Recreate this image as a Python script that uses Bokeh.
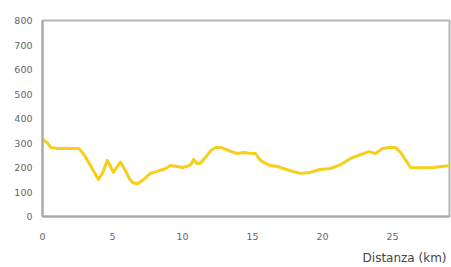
from bokeh.plotting import figure
from bokeh.models import Range1d, FixedTicker, LinearAxis, CustomJSTickFormatter
from bokeh.embed import file_html
from bokeh.resources import INLINE

# distance (km) and altitude (m)
distanza = [0.0, 0.1, 0.35, 0.6, 1.0, 1.6, 2.1, 2.6, 3.0, 3.5, 4.0, 4.3, 4.64, 4.85, 5.07, 5.3, 5.57,
            5.9, 6.2, 6.43, 6.8, 7.2, 7.7, 8.3, 8.8, 9.14, 9.6, 10.0, 10.4, 10.6, 10.79, 10.95, 11.07,
            11.29, 11.7, 12.0, 12.36, 12.71, 13.1, 13.5, 13.93, 14.36, 14.8, 15.21, 15.57, 15.9, 16.29,
            16.8, 17.21, 17.8, 18.43, 19.14, 19.8, 20.57, 21.3, 22.0, 22.7, 23.29, 23.79, 24.29, 24.8,
            25.21, 25.6, 26.0, 26.29, 27.0, 27.93, 28.5, 29.14]
altitudine = [318, 312, 300, 282, 278, 279, 278, 278, 250, 200, 151, 180, 229, 205, 180, 200, 222,
              190, 155, 139, 134, 150, 176, 186, 196, 208, 204, 200, 206, 212, 233, 222, 216,
              218, 245, 268, 282, 282, 274, 265, 257, 261, 258, 257, 229, 218, 208,
              204, 196, 185, 176, 180, 192, 196, 212, 237, 252, 265, 257, 278, 282,
              282, 260, 225, 200, 199, 200, 204, 208]

y_ticks = [0, 100, 200, 300, 400, 500, 600, 700, 800]
x_ticks = [0, 5, 10, 15, 20, 25]
x_title = "Distanza (km)"
x_title_anchor = [26.57]   # where the axis title is centred

p = figure(width=451, height=267, output_backend="svg", toolbar_location=None,
           x_range=Range1d(0, 29.07), y_range=Range1d(0, 800),
           min_border_left=42, min_border_right=2, min_border_top=20, min_border_bottom=51)

p.line(distanza, altitudine, line_color="#f5cf1c", line_width=3, line_join="round")

p.xgrid.visible = False
p.ygrid.visible = False
p.outline_line_color = "#b4b4b4"
p.outline_line_width = 2

for ax in (p.xaxis, p.yaxis):
    ax.axis_line_color = "#a8a8a8"
    ax.axis_line_width = 2
    ax.major_tick_line_color = None
    ax.minor_tick_line_color = None
    ax.major_label_text_font = "DejaVu Sans"
    ax.major_label_text_font_size = "9.5px"
    ax.major_label_text_color = "#666666"

p.yaxis.ticker = FixedTicker(ticks=y_ticks)
p.xaxis.ticker = FixedTicker(ticks=x_ticks)
p.yaxis.major_label_standoff = 4
p.xaxis.major_label_standoff = 10

title_axis = LinearAxis(ticker=FixedTicker(ticks=x_title_anchor),
                        formatter=CustomJSTickFormatter(code="return %r;" % x_title),
                        axis_line_color=None, major_tick_line_color=None,
                        minor_tick_line_color=None, major_label_standoff=2,
                        major_label_text_font="DejaVu Sans",
                        major_label_text_font_size="12px",
                        major_label_text_color="#444444")
p.add_layout(title_axis, "below")

open("out.html", "w").write(file_html(p, INLINE))
